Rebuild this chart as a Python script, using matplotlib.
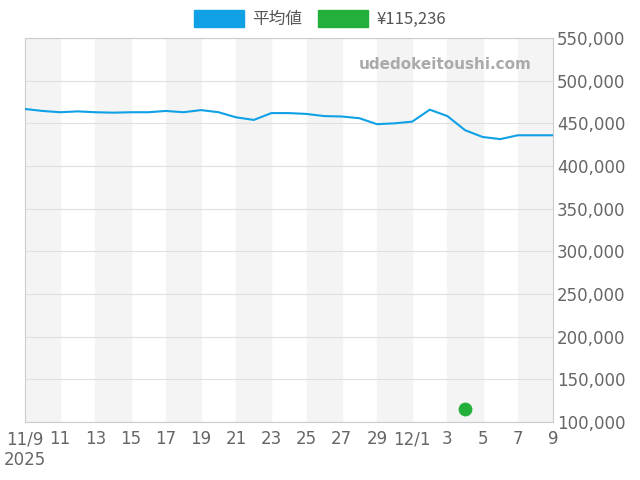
import datetime as dt
import matplotlib
matplotlib.use("Agg")
import matplotlib.pyplot as plt
from matplotlib.patches import Patch
from matplotlib.ticker import FuncFormatter

plt.rcParams['font.family'] = ['DejaVu Sans', 'Noto Sans CJK JP']

start = dt.date(2025, 11, 9)
days = [start + dt.timedelta(days=i) for i in range(31)]
avg_price = [466800, 464500, 463000, 464000, 463000, 462500, 463000, 463000,
             464500, 463000, 465500, 463000, 457000, 454000, 462000, 462000,
             461000, 458500, 458000, 456000, 449000, 450000, 452000, 466000,
             458500, 442000, 434000, 431500, 436000, 436000, 436000]
point_day = dt.date(2025, 12, 4)
point_price = 115236

fig = plt.figure(figsize=(6.4, 4.8), dpi=100)
ax = fig.add_axes([25 / 640, 58 / 480, 528 / 640, 384 / 480])

for i in range(0, 30, 4):
    ax.axvspan(days[i], days[i + 2], color="#f4f4f4", zorder=0)

ax.plot(days, avg_price, color="#0fa0e6", linewidth=1.5, zorder=3)
ax.scatter([point_day], [point_price], color="#22b03a", s=80, zorder=4)

ax.set_xlim(days[0], days[-1])
ax.set_ylim(100000, 550000)
ax.yaxis.tick_right()
ax.set_yticks(range(100000, 550001, 50000))
ax.yaxis.set_major_formatter(FuncFormatter(lambda v, p: f"{int(v):,}"))
ax.grid(axis="y", color="#e0e0e0", linewidth=0.8)

ticks = days[::2]
labels = []
for d in ticks:
    if d == days[0]:
        labels.append("11/9\n2025")
    elif d.day == 1:
        labels.append(f"{d.month}/{d.day}")
    else:
        labels.append(str(d.day))
ax.set_xticks(ticks)
ax.set_xticklabels(labels)
ax.tick_params(colors="#666666", labelsize=12, length=0)
ax.tick_params(axis="x", pad=6)
ax.tick_params(axis="y", pad=3)
for s in ax.spines.values():
    s.set_color("#cccccc")

ax.text(0.96, 0.93, "udedokeitoushi.com", transform=ax.transAxes, ha="right",
        va="center", color="#aaaaaa", fontsize=11, fontweight="bold")

handles = [Patch(color="#0fa0e6", label="平均値"),
           Patch(color="#22b03a", label="¥115,236")]
fig.legend(handles=handles, loc="upper center", ncol=2, frameon=False,
           bbox_to_anchor=(0.5, 1.01), fontsize=12, handlelength=3,
           handleheight=1.2, handletextpad=0.5, columnspacing=1.0,
           labelcolor="#555555", prop={"family": ["Noto Sans CJK JP", "DejaVu Sans"], "size": 12})

fig.savefig("out.png", dpi=100)
